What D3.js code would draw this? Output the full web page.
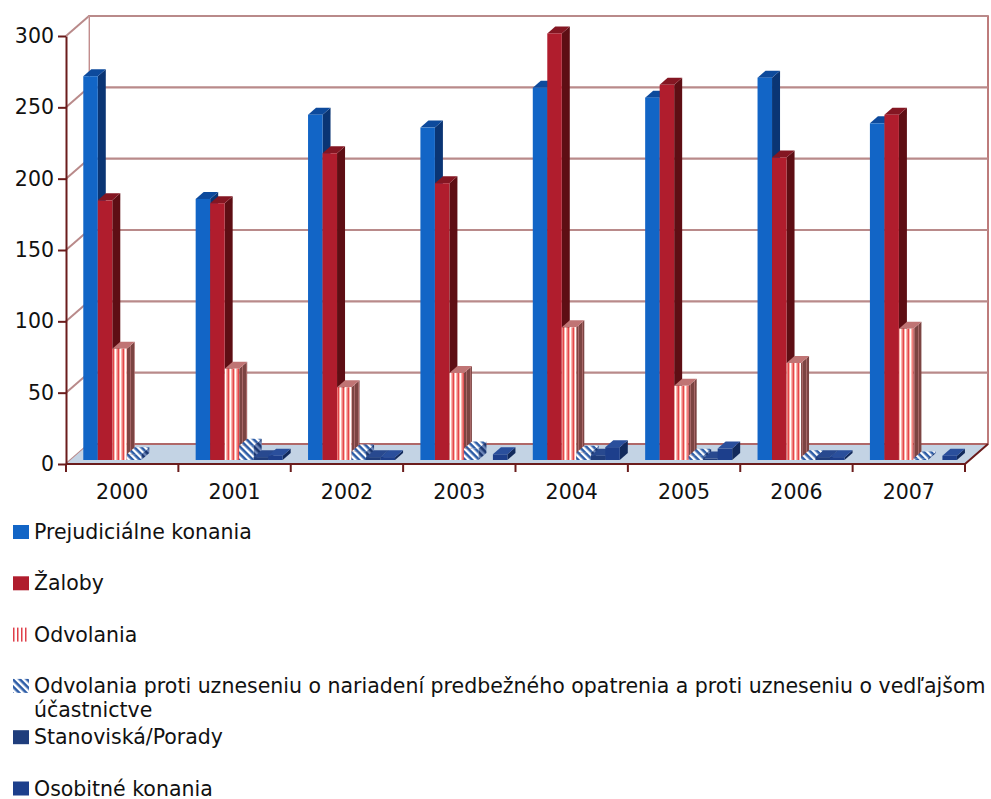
<!DOCTYPE html>
<html>
<head>
<meta charset="utf-8">
<script src="https://cdn.jsdelivr.net/npm/d3@7"></script>
<style>
  html, body { margin: 0; padding: 0; background: #fff; }
  svg { display: block; font-family: "DejaVu Sans", Verdana, sans-serif; }
</style>
</head>
<body>
<svg id="chart" width="991" height="799"></svg>
<script>
const years = ['2000', '2001', '2002', '2003', '2004', '2005', '2006', '2007']
const prejudicialne = [269, 183, 242, 233, 261, 254, 268, 236]
const zaloby = [182, 180, 215, 194, 299, 263, 212, 242]
const odvolania = [78, 64, 51, 61, 93, 52, 68, 92]
const odvolaniaProti = [4, 10, 6, 8, 5, 3, 2, 1]
const stanoviska = [0, 2, 2, 0, 3, 1, 2, 0]
const osobitne = [0, 3, 2, 4, 9, 8, 2, 3]
const yTicks = [0, 50, 100, 150, 200, 250, 300]

const seriesNames = [
    'Prejudiciálne konania',
    'Žaloby',
    'Odvolania',
    'Odvolania proti uzneseniu o nariadení predbežného opatrenia a proti uzneseniu o vedľajšom účastnictve',
    'Stanoviská/Porady',
    'Osobitné konania'
]
const seriesValues = [prejudicialne, zaloby, odvolania, odvolaniaProti, stanoviska, osobitne]

// front / side / top fills per series
const STYLES = [
    { front: '#1265c6', side: '#0a3574', top: '#0d4a9c' },
    { front: '#b01d2d', side: '#5e0e14', top: '#841622' },
    { front: 'url(#odvFront)', side: 'url(#odvSide)', top: '#c07474' },
    { front: 'url(#hatchFront)', side: 'url(#hatchSide)', top: 'url(#hatchFront)' },
    { front: '#1f3d7c', side: '#132852', top: '#28498f' },
    { front: '#1d3f8c', side: '#122a5c', top: '#2a4f9c' }
]
const LEGEND_FILL = ['#1265c6', '#b01d2d', 'url(#odvLegend)', 'url(#hatchFront)', '#1f3d7c', '#1d3f8c']

// 3D geometry
const WALL = { dx: 23, dy: -20 }
const BAR_FRONT = { dx: 4.6, dy: -4 }
const BAR_BACK = { dx: 12.6, dy: -11 }
const GRID = '#b98a8a'
const AXIS = '#6b1c1c'
const FONT = 20.5

const svg = d3.select('#chart')

const y = d3.scaleLinear().domain([0, 300]).range([464, 36])
const x = d3.scaleBand().domain(years).range([66, 965]).paddingInner(0).paddingOuter(0)
const xs = d3.scaleBand().domain(d3.range(seriesNames.length))
    .range([0, x.bandwidth()]).paddingInner(0).paddingOuter(0.875)

// patterns
const defs = svg.append('defs')
const odvF = defs.append('pattern').attr('id', 'odvFront')
    .attr('patternUnits', 'userSpaceOnUse').attr('width', 5).attr('height', 10)
odvF.append('rect').attr('width', 5).attr('height', 10).attr('fill', '#fbb8b0')
odvF.append('rect').attr('x', 0).attr('width', 1).attr('height', 10).attr('fill', '#fff')
odvF.append('rect').attr('x', 2.5).attr('width', 1.5).attr('height', 10).attr('fill', '#e4464a')

const odvS = defs.append('pattern').attr('id', 'odvSide')
    .attr('patternUnits', 'userSpaceOnUse').attr('width', 4).attr('height', 10)
odvS.append('rect').attr('width', 4).attr('height', 10).attr('fill', '#7c4442')
odvS.append('rect').attr('x', 2).attr('width', 1).attr('height', 10).attr('fill', '#a86868')

const odvL = defs.append('pattern').attr('id', 'odvLegend')
    .attr('patternUnits', 'userSpaceOnUse').attr('width', 4).attr('height', 10)
odvL.append('rect').attr('width', 4).attr('height', 10).attr('fill', '#fff')
odvL.append('rect').attr('x', 1).attr('width', 1.5).attr('height', 10).attr('fill', '#e0404a')

const hF = defs.append('pattern').attr('id', 'hatchFront')
    .attr('patternUnits', 'userSpaceOnUse').attr('width', 5).attr('height', 5)
    .attr('patternTransform', 'rotate(45)')
hF.append('rect').attr('width', 5).attr('height', 5).attr('fill', '#fff')
hF.append('rect').attr('width', 5).attr('height', 2.6).attr('fill', '#2c5ca6')

const hS = defs.append('pattern').attr('id', 'hatchSide')
    .attr('patternUnits', 'userSpaceOnUse').attr('width', 5).attr('height', 5)
    .attr('patternTransform', 'rotate(45)')
hS.append('rect').attr('width', 5).attr('height', 5).attr('fill', '#6d86b8')
hS.append('rect').attr('width', 5).attr('height', 2.6).attr('fill', '#1a3670')

const poly = pts => 'M' + pts.map(p => p.join(',')).join('L') + 'Z'

const xL = x.range()[0], xR = x.range()[1]
const y0 = y(0)

// back wall
svg.append('rect')
    .attr('x', xL + WALL.dx).attr('y', y(300) + WALL.dy)
    .attr('width', xR - xL).attr('height', y0 - y(300))
    .attr('fill', '#fff').attr('stroke', '#a85050').attr('stroke-width', 1.5)

// left wall
svg.append('path')
    .attr('d', poly([[xL, y(300)], [xL + WALL.dx, y(300) + WALL.dy], [xL + WALL.dx, y0 + WALL.dy], [xL, y0]]))
    .attr('fill', '#fff')

// gridlines on back wall and left wall
yTicks.forEach(t => {
    svg.append('line')
        .attr('x1', xL + WALL.dx).attr('x2', xR + WALL.dx)
        .attr('y1', y(t) + WALL.dy).attr('y2', y(t) + WALL.dy)
        .attr('stroke', GRID).attr('stroke-width', 2.2)
    svg.append('line')
        .attr('x1', xL).attr('x2', xL + WALL.dx)
        .attr('y1', y(t)).attr('y2', y(t) + WALL.dy)
        .attr('stroke', GRID).attr('stroke-width', 2)
})
svg.append('line')
    .attr('x1', xL + WALL.dx).attr('x2', xL + WALL.dx)
    .attr('y1', y(300) + WALL.dy).attr('y2', y0 + WALL.dy)
    .attr('stroke', '#c9a0a0').attr('stroke-width', 1)

// floor
svg.append('path')
    .attr('d', poly([[xL, y0], [xR, y0], [xR + WALL.dx, y0 + WALL.dy], [xL + WALL.dx, y0 + WALL.dy]]))
    .attr('fill', '#c3d3e4')
svg.append('line')
    .attr('x1', xL + WALL.dx).attr('x2', xR + WALL.dx)
    .attr('y1', y0 + WALL.dy).attr('y2', y0 + WALL.dy)
    .attr('stroke', '#b06868').attr('stroke-width', 2)

// bars, left to right so each front face covers the previous side face
years.forEach((yr, i) => {
    seriesValues.forEach((vals, s) => {
        const v = vals[i]
        if (!v) return
        const xa = x(yr) + xs(s)
        const xb = xa + xs.bandwidth()
        const yt = y(v), yb = y(0)
        const st = STYLES[s]
        const g = svg.append('g').attr('class', 'bar')
        g.append('path')
            .attr('d', poly([[xb + BAR_FRONT.dx, yt + BAR_FRONT.dy], [xb + BAR_BACK.dx, yt + BAR_BACK.dy],
                [xb + BAR_BACK.dx, yb + BAR_BACK.dy], [xb + BAR_FRONT.dx, yb + BAR_FRONT.dy]]))
            .attr('fill', st.side)
        g.append('path')
            .attr('d', poly([[xa + BAR_FRONT.dx, yt + BAR_FRONT.dy], [xb + BAR_FRONT.dx, yt + BAR_FRONT.dy],
                [xb + BAR_BACK.dx, yt + BAR_BACK.dy], [xa + BAR_BACK.dx, yt + BAR_BACK.dy]]))
            .attr('fill', st.top)
        g.append('rect')
            .attr('x', xa + BAR_FRONT.dx).attr('y', yt + BAR_FRONT.dy)
            .attr('width', xb - xa).attr('height', yb - yt)
            .attr('fill', st.front)
    })
})

// floor front edge + right edge
svg.append('path')
    .attr('d', `M${xL},${y0}L${xR},${y0}L${xR + WALL.dx},${y0 + WALL.dy}`)
    .attr('fill', 'none').attr('stroke', AXIS).attr('stroke-width', 2)

// y axis
const yAxis = svg.append('g')
    .attr('transform', `translate(${xL},0)`)
    .call(d3.axisLeft(y).tickValues(yTicks).tickSize(8).tickSizeOuter(0).tickPadding(4))
yAxis.select('.domain').attr('stroke', AXIS).attr('stroke-width', 2)
yAxis.selectAll('.tick line').attr('stroke', AXIS).attr('stroke-width', 2)
yAxis.selectAll('.tick text')
    .attr('font-size', FONT).attr('fill', '#111')
    .attr('font-family', '"DejaVu Sans", Verdana, sans-serif')

// x axis: labels centred in bands, ticks at band boundaries
const xAxis = svg.append('g')
    .attr('transform', `translate(0,${y0})`)
    .call(d3.axisBottom(x).tickSize(0).tickPadding(20))
xAxis.select('.domain').remove()
xAxis.selectAll('.tick text')
    .attr('font-size', FONT).attr('fill', '#111')
    .attr('font-family', '"DejaVu Sans", Verdana, sans-serif')
const bounds = years.map(d => x(d)).concat([xR])
svg.selectAll('.xbound').data(bounds).enter()
    .append('line').attr('class', 'xbound')
    .attr('x1', d => d).attr('x2', d => d)
    .attr('y1', y0).attr('y2', y0 + 8)
    .attr('stroke', AXIS).attr('stroke-width', 2)

// legend
const legendTop = 532, legendStep = 51.3
const legend = svg.append('g').attr('class', 'legend')
seriesNames.forEach((name, s) => {
    const cy = legendTop + s * legendStep
    legend.append('rect')
        .attr('x', 13).attr('y', cy - 7).attr('width', 16).attr('height', 14)
        .attr('fill', LEGEND_FILL[s])
    const t = legend.append('text')
        .attr('x', 34).attr('y', cy + 7)
        .attr('font-size', FONT).attr('fill', '#111')
    if (s === 3) {
        t.append('tspan').attr('x', 34)
            .text('Odvolania proti uzneseniu o nariadení predbežného opatrenia a proti uzneseniu o vedľajšom')
        t.append('tspan').attr('x', 34).attr('dy', 24).text('účastnictve')
    } else {
        t.text(name)
    }
})
</script>
</body>
</html>
